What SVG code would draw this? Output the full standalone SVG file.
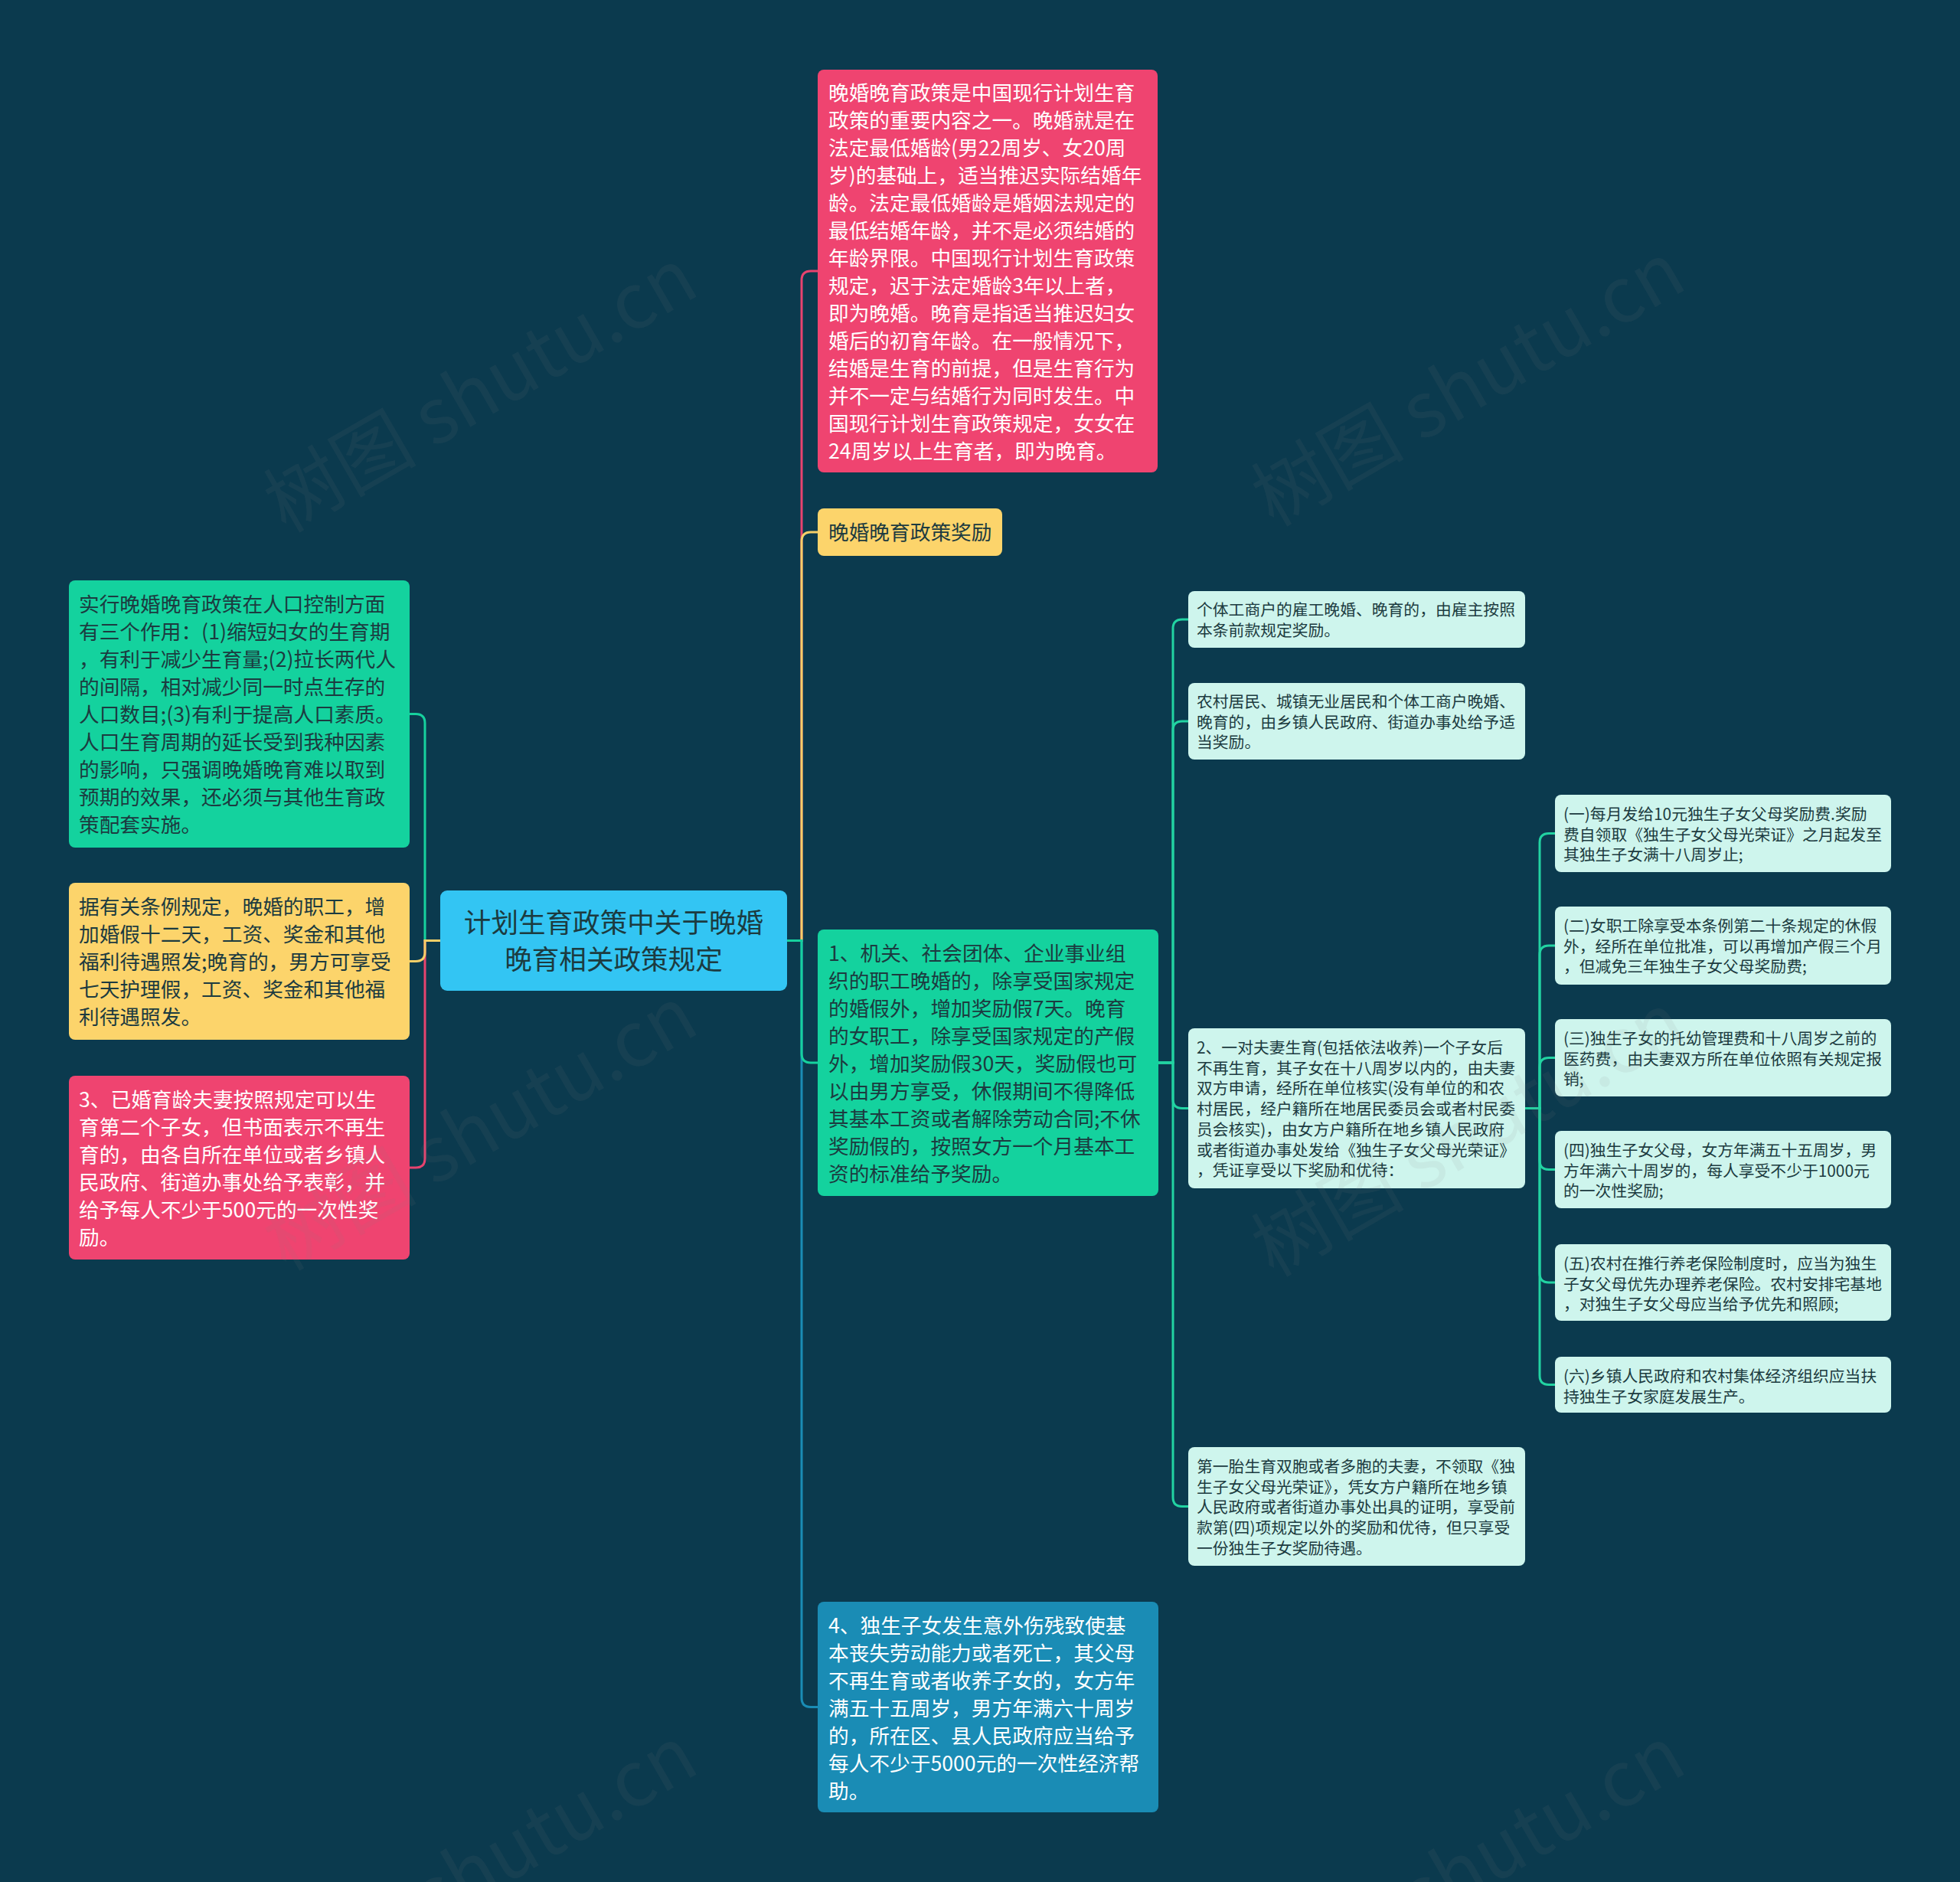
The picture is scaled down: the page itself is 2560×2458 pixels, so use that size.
<svg xmlns="http://www.w3.org/2000/svg" width="2560" height="2458" viewBox="0 0 2560 2458">
<style>
text{font-family:"Noto Sans CJK SC","Noto Sans",sans-serif;}
.big{font-size:26.7px;}
.sm{font-size:20.8px;fill:#1c3b40;}
.dk{fill:#1c3b40;}
.wt{fill:#ffffff;}
.conn{fill:none;stroke-width:3;}
.wm{font-size:100px;fill:#8a8a8a;fill-opacity:0.09;}
</style>
<rect width="2560" height="2458" fill="#0b3a4e"/>
<g id="connectors">
<path class="conn" stroke="#e8436f" d="M1028 1228.5 H1047 V366 Q1047 354 1059 354 H1068"/>
<path class="conn" stroke="#f5cf68" d="M1028 1228.5 H1047 V707 Q1047 695 1059 695 H1068"/>
<path class="conn" stroke="#1a8cb5" d="M1028 1228.5 H1047 V2217.5 Q1047 2229.5 1059 2229.5 H1068"/>
<path class="conn" stroke="#16d19e" d="M1028 1228.5 H1047 V1376 Q1047 1388 1059 1388 H1068"/>
<path class="conn" stroke="#16d19e" d="M575 1228.5 H555 V944.5 Q555 932.5 543 932.5 H535"/>
<path class="conn" stroke="#e8436f" d="M575 1228.5 H555 V1513 Q555 1525 543 1525 H535"/>
<path class="conn" stroke="#f5cf68" d="M575 1228.5 H555 V1243.5 Q555 1255.5 543 1255.5 H535"/>
<path class="conn" stroke="#22d3a2" d="M1513 1388 H1532 V821 Q1532 809 1544 809 H1552"/>
<path class="conn" stroke="#22d3a2" d="M1513 1388 H1532 V954 Q1532 942 1544 942 H1552"/>
<path class="conn" stroke="#22d3a2" d="M1513 1388 H1532 V1435.5 Q1532 1447.5 1544 1447.5 H1552"/>
<path class="conn" stroke="#22d3a2" d="M1513 1388 H1532 V1955.5 Q1532 1967.5 1544 1967.5 H1552"/>
<path class="conn" stroke="#22d3a2" d="M1992 1447.5 H2011 V1100.5 Q2011 1088.5 2023 1088.5 H2031"/>
<path class="conn" stroke="#22d3a2" d="M1992 1447.5 H2011 V1247 Q2011 1235 2023 1235 H2031"/>
<path class="conn" stroke="#22d3a2" d="M1992 1447.5 H2011 V1393.5 Q2011 1381.5 2023 1381.5 H2031"/>
<path class="conn" stroke="#22d3a2" d="M1992 1447.5 H2011 V1515.5 Q2011 1527.5 2023 1527.5 H2031"/>
<path class="conn" stroke="#22d3a2" d="M1992 1447.5 H2011 V1663 Q2011 1675 2023 1675 H2031"/>
<path class="conn" stroke="#22d3a2" d="M1992 1447.5 H2011 V1796.5 Q2011 1808.5 2023 1808.5 H2031"/>
</g>
<g id="root">
<rect x="575" y="1163" width="453" height="131" rx="9" fill="#33c5f3"/>
<text x="801.5" y="1218" text-anchor="middle" font-size="35.6" class="dk"><tspan x="801.5">计划生育政策中关于晚婚</tspan><tspan x="801.5" dy="48">晚育相关政策规定</tspan></text>
</g>
<g id="n_top">
<rect x="1068" y="91" width="444" height="526" rx="8" fill="#ef4470"/>
<text class="big wt" x="1082" y="131"><tspan x="1082">晚婚晚育政策是中国现行计划生育</tspan><tspan x="1082" dy="36">政策的重要内容之一。晚婚就是在</tspan><tspan x="1082" dy="36">法定最低婚龄(男22周岁、女20周</tspan><tspan x="1082" dy="36">岁)的基础上，适当推迟实际结婚年</tspan><tspan x="1082" dy="36">龄。法定最低婚龄是婚姻法规定的</tspan><tspan x="1082" dy="36">最低结婚年龄，并不是必须结婚的</tspan><tspan x="1082" dy="36">年龄界限。中国现行计划生育政策</tspan><tspan x="1082" dy="36">规定，迟于法定婚龄3年以上者，</tspan><tspan x="1082" dy="36">即为晚婚。晚育是指适当推迟妇女</tspan><tspan x="1082" dy="36">婚后的初育年龄。在一般情况下，</tspan><tspan x="1082" dy="36">结婚是生育的前提，但是生育行为</tspan><tspan x="1082" dy="36">并不一定与结婚行为同时发生。中</tspan><tspan x="1082" dy="36">国现行计划生育政策规定，女女在</tspan><tspan x="1082" dy="36">24周岁以上生育者，即为晚育。</tspan></text>
</g>
<g id="n_reward">
<rect x="1068" y="664" width="241" height="62" rx="8" fill="#fcd46b"/>
<text class="big dk" x="1082" y="705">晚婚晚育政策奖励</text>
</g>
<g id="n_left_green">
<rect x="90" y="758" width="445" height="349" rx="8" fill="#14d29e"/>
<text class="big dk" x="103" y="799"><tspan x="103">实行晚婚晚育政策在人口控制方面</tspan><tspan x="103" dy="36">有三个作用：(1)缩短妇女的生育期</tspan><tspan x="103" dy="36">，有利于减少生育量;(2)拉长两代人</tspan><tspan x="103" dy="36">的间隔，相对减少同一时点生存的</tspan><tspan x="103" dy="36">人口数目;(3)有利于提高人口素质。</tspan><tspan x="103" dy="36">人口生育周期的延长受到我种因素</tspan><tspan x="103" dy="36">的影响，只强调晚婚晚育难以取到</tspan><tspan x="103" dy="36">预期的效果，还必须与其他生育政</tspan><tspan x="103" dy="36">策配套实施。</tspan></text>
</g>
<g id="n_left_yellow">
<rect x="90" y="1153" width="445" height="205" rx="8" fill="#fcd46b"/>
<text class="big dk" x="103" y="1194"><tspan x="103">据有关条例规定，晚婚的职工，增</tspan><tspan x="103" dy="36">加婚假十二天，工资、奖金和其他</tspan><tspan x="103" dy="36">福利待遇照发;晚育的，男方可享受</tspan><tspan x="103" dy="36">七天护理假，工资、奖金和其他福</tspan><tspan x="103" dy="36">利待遇照发。</tspan></text>
</g>
<g id="n_left_pink">
<rect x="90" y="1405" width="445" height="240" rx="8" fill="#ef4470"/>
<text class="big wt" x="103" y="1446"><tspan x="103">3、已婚育龄夫妻按照规定可以生</tspan><tspan x="103" dy="36">育第二个子女，但书面表示不再生</tspan><tspan x="103" dy="36">育的，由各自所在单位或者乡镇人</tspan><tspan x="103" dy="36">民政府、街道办事处给予表彰，并</tspan><tspan x="103" dy="36">给予每人不少于500元的一次性奖</tspan><tspan x="103" dy="36">励。</tspan></text>
</g>
<g id="n_green1">
<rect x="1068" y="1214" width="445" height="348" rx="8" fill="#14d29e"/>
<text class="big dk" x="1082" y="1255"><tspan x="1082">1、机关、社会团体、企业事业组</tspan><tspan x="1082" dy="36">织的职工晚婚的，除享受国家规定</tspan><tspan x="1082" dy="36">的婚假外，增加奖励假7天。晚育</tspan><tspan x="1082" dy="36">的女职工，除享受国家规定的产假</tspan><tspan x="1082" dy="36">外，增加奖励假30天，奖励假也可</tspan><tspan x="1082" dy="36">以由男方享受，休假期间不得降低</tspan><tspan x="1082" dy="36">其基本工资或者解除劳动合同;不休</tspan><tspan x="1082" dy="36">奖励假的，按照女方一个月基本工</tspan><tspan x="1082" dy="36">资的标准给予奖励。</tspan></text>
</g>
<g id="n_blue">
<rect x="1068" y="2092" width="445" height="275" rx="8" fill="#1a8cb5"/>
<text class="big wt" x="1082" y="2133"><tspan x="1082">4、独生子女发生意外伤残致使基</tspan><tspan x="1082" dy="36">本丧失劳动能力或者死亡，其父母</tspan><tspan x="1082" dy="36">不再生育或者收养子女的，女方年</tspan><tspan x="1082" dy="36">满五十五周岁，男方年满六十周岁</tspan><tspan x="1082" dy="36">的，所在区、县人民政府应当给予</tspan><tspan x="1082" dy="36">每人不少于5000元的一次性经济帮</tspan><tspan x="1082" dy="36">助。</tspan></text>
</g>
<g id="n_s1">
<rect x="1552" y="772" width="440" height="74" rx="8" fill="#cef5ed"/>
<text class="sm" x="1563" y="804"><tspan x="1563">个体工商户的雇工晚婚、晚育的，由雇主按照</tspan><tspan x="1563" dy="26.7">本条前款规定奖励。</tspan></text>
</g>
<g id="n_s2">
<rect x="1552" y="892" width="440" height="100" rx="8" fill="#cef5ed"/>
<text class="sm" x="1563" y="924"><tspan x="1563">农村居民、城镇无业居民和个体工商户晚婚、</tspan><tspan x="1563" dy="26.7">晚育的，由乡镇人民政府、街道办事处给予适</tspan><tspan x="1563" dy="26.7">当奖励。</tspan></text>
</g>
<g id="n_s3">
<rect x="1552" y="1343" width="440" height="209" rx="8" fill="#cef5ed"/>
<text class="sm" x="1563" y="1376"><tspan x="1563">2、一对夫妻生育(包括依法收养)一个子女后</tspan><tspan x="1563" dy="26.7">不再生育，其子女在十八周岁以内的，由夫妻</tspan><tspan x="1563" dy="26.7">双方申请，经所在单位核实(没有单位的和农</tspan><tspan x="1563" dy="26.7">村居民，经户籍所在地居民委员会或者村民委</tspan><tspan x="1563" dy="26.7">员会核实)，由女方户籍所在地乡镇人民政府</tspan><tspan x="1563" dy="26.7">或者街道办事处发给《独生子女父母光荣证》</tspan><tspan x="1563" dy="26.7">，凭证享受以下奖励和优待：</tspan></text>
</g>
<g id="n_s4">
<rect x="1552" y="1890" width="440" height="155" rx="8" fill="#cef5ed"/>
<text class="sm" x="1563" y="1923"><tspan x="1563">第一胎生育双胞或者多胞的夫妻，不领取《独</tspan><tspan x="1563" dy="26.7">生子女父母光荣证》，凭女方户籍所在地乡镇</tspan><tspan x="1563" dy="26.7">人民政府或者街道办事处出具的证明，享受前</tspan><tspan x="1563" dy="26.7">款第(四)项规定以外的奖励和优待，但只享受</tspan><tspan x="1563" dy="26.7">一份独生子女奖励待遇。</tspan></text>
</g>
<g id="n_r1">
<rect x="2031" y="1038" width="439" height="101" rx="8" fill="#cef5ed"/>
<text class="sm" x="2042" y="1071"><tspan x="2042">(一)每月发给10元独生子女父母奖励费.奖励</tspan><tspan x="2042" dy="26.7">费自领取《独生子女父母光荣证》之月起发至</tspan><tspan x="2042" dy="26.7">其独生子女满十八周岁止;</tspan></text>
</g>
<g id="n_r2">
<rect x="2031" y="1184" width="439" height="102" rx="8" fill="#cef5ed"/>
<text class="sm" x="2042" y="1217"><tspan x="2042">(二)女职工除享受本条例第二十条规定的休假</tspan><tspan x="2042" dy="26.7">外，经所在单位批准，可以再增加产假三个月</tspan><tspan x="2042" dy="26.7">，但减免三年独生子女父母奖励费;</tspan></text>
</g>
<g id="n_r3">
<rect x="2031" y="1331" width="439" height="101" rx="8" fill="#cef5ed"/>
<text class="sm" x="2042" y="1364"><tspan x="2042">(三)独生子女的托幼管理费和十八周岁之前的</tspan><tspan x="2042" dy="26.7">医药费，由夫妻双方所在单位依照有关规定报</tspan><tspan x="2042" dy="26.7">销;</tspan></text>
</g>
<g id="n_r4">
<rect x="2031" y="1477" width="439" height="101" rx="8" fill="#cef5ed"/>
<text class="sm" x="2042" y="1510"><tspan x="2042">(四)独生子女父母，女方年满五十五周岁，男</tspan><tspan x="2042" dy="26.7">方年满六十周岁的，每人享受不少于1000元</tspan><tspan x="2042" dy="26.7">的一次性奖励;</tspan></text>
</g>
<g id="n_r5">
<rect x="2031" y="1625" width="439" height="100" rx="8" fill="#cef5ed"/>
<text class="sm" x="2042" y="1658"><tspan x="2042">(五)农村在推行养老保险制度时，应当为独生</tspan><tspan x="2042" dy="26.7">子女父母优先办理养老保险。农村安排宅基地</tspan><tspan x="2042" dy="26.7">，对独生子女父母应当给予优先和照顾;</tspan></text>
</g>
<g id="n_r6">
<rect x="2031" y="1772" width="439" height="73" rx="8" fill="#cef5ed"/>
<text class="sm" x="2042" y="1805"><tspan x="2042">(六)乡镇人民政府和农村集体经济组织应当扶</tspan><tspan x="2042" dy="26.7">持独生子女家庭发展生产。</tspan></text>
</g>
<g id="watermarks">
<text class="wm" text-anchor="middle" transform="translate(645 540) rotate(-30)">树图 shutu.cn</text>
<text class="wm" text-anchor="middle" transform="translate(1935 532) rotate(-30)">树图 shutu.cn</text>
<text class="wm" text-anchor="middle" transform="translate(645 1504) rotate(-30)">树图 shutu.cn</text>
<text class="wm" text-anchor="middle" transform="translate(1935 1512) rotate(-30)">树图 shutu.cn</text>
<text class="wm" text-anchor="middle" transform="translate(645 2470) rotate(-30)">树图 shutu.cn</text>
<text class="wm" text-anchor="middle" transform="translate(1935 2470) rotate(-30)">树图 shutu.cn</text>
</g>
</svg>
